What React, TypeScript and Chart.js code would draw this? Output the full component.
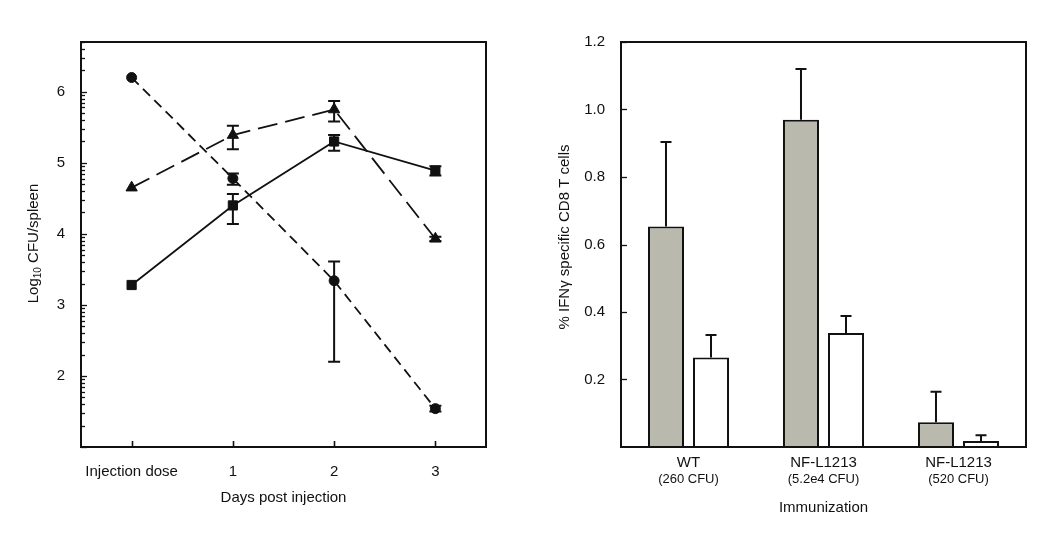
import React, { useEffect, useRef } from "react";
import { Chart, registerables } from "chart.js";

Chart.register(...registerables);

// ---------- Left panel data ----------
const dayLabels = ["Injection dose", "1", "2", "3"];
const dayX = [0, 1, 2, 3];
const circleMean = [6.2, 4.78, 3.34, 1.54];
const circleHigh = [null, 4.85, 3.61, 1.58];
const circleLow = [null, 4.69, 2.2, 1.5];
const triMean = [4.65, 5.39, 5.75, 3.93];
const triHigh = [null, 5.52, 5.87, 3.96];
const triLow = [null, 5.19, 5.58, 3.9];
const sqMean = [3.28, 4.4, 5.3, 4.89];
const sqHigh = [null, 4.56, 5.39, 4.95];
const sqLow = [null, 4.14, 5.17, 4.82];
const leftYTicks = [2, 3, 4, 5, 6];

// ---------- Right panel data ----------
const groups = ["WT", "NF-L1213", "NF-L1213"];
const groupDoses = ["(260 CFU)", "(5.2e4 CFU)", "(520 CFU)"];
const grayValues = [0.653, 0.97, 0.073];
const grayErrTop = [0.904, 1.12, 0.164];
const whiteValues = [0.265, 0.338, 0.018];
const whiteErrTop = [0.332, 0.388, 0.035];
const rightYTicks = [0.2, 0.4, 0.6, 0.8, 1.0, 1.2];

const FONT = "'Liberation Sans', Arial, sans-serif";
const INK = "#111";

function leftPlugin() {
  return {
    id: "leftDecor",
    afterDatasetsDraw(chart: any) {
      const ctx = chart.ctx;
      const xs = chart.scales.x;
      const ys = chart.scales.y;
      const series = [
        [circleHigh, circleLow],
        [triHigh, triLow],
        [sqHigh, sqLow],
      ];
      ctx.save();
      ctx.strokeStyle = INK;
      ctx.lineWidth = 2;
      series.forEach(([hi, lo]) => {
        dayX.forEach((xv, i) => {
          const h = hi[i];
          const l = lo[i];
          if (h == null || l == null) return;
          const px = xs.getPixelForValue(xv);
          const ph = ys.getPixelForValue(h);
          const pl = ys.getPixelForValue(l);
          ctx.beginPath();
          ctx.moveTo(px, ph);
          ctx.lineTo(px, pl);
          ctx.moveTo(px - 6, ph);
          ctx.lineTo(px + 6, ph);
          ctx.moveTo(px - 6, pl);
          ctx.lineTo(px + 6, pl);
          ctx.stroke();
        });
      });
      ctx.restore();
    },
    afterDraw(chart: any) {
      const ctx = chart.ctx;
      const { left, right, top, bottom } = chart.chartArea;
      const xs = chart.scales.x;
      const ys = chart.scales.y;
      ctx.save();
      ctx.strokeStyle = INK;
      ctx.lineWidth = 2;
      ctx.strokeRect(left, top, right - left, bottom - top);
      ctx.lineWidth = 1.3;
      // log-style minor and major ticks on the y axis (inside)
      for (let d = 1; d <= 6; d++) {
        for (let k = 1; k <= 9; k++) {
          const v = d + Math.log10(k);
          if (v > ys.max + 1e-6 || v < ys.min - 1e-6) continue;
          const py = Math.round(ys.getPixelForValue(v)) + 0.5;
          const len = k === 1 ? 6 : 4;
          ctx.beginPath();
          ctx.moveTo(left, py);
          ctx.lineTo(left + len, py);
          ctx.stroke();
        }
      }
      // x ticks (inside)
      ctx.lineWidth = 1.6;
      dayX.forEach((xv) => {
        const px = Math.round(xs.getPixelForValue(xv)) + 0.5;
        ctx.beginPath();
        ctx.moveTo(px, bottom);
        ctx.lineTo(px, bottom - 6);
        ctx.stroke();
      });
      // x title
      ctx.fillStyle = INK;
      ctx.font = `15px ${FONT}`;
      ctx.textAlign = "center";
      ctx.textBaseline = "middle";
      ctx.fillText("Days post injection", (left + right) / 2, 498);
      // y title with subscript
      const big = `15px ${FONT}`;
      const small = `10px ${FONT}`;
      ctx.font = big;
      const w1 = ctx.measureText("Log").width;
      const w3 = ctx.measureText(" CFU/spleen").width;
      ctx.font = small;
      const w2 = ctx.measureText("10").width;
      const total = w1 + w2 + w3;
      ctx.translate(34, 243.5);
      ctx.rotate(-Math.PI / 2);
      ctx.textAlign = "left";
      let cx = -total / 2;
      ctx.font = big;
      ctx.fillText("Log", cx, 0);
      cx += w1;
      ctx.font = small;
      ctx.fillText("10", cx, 4);
      cx += w2;
      ctx.font = big;
      ctx.fillText(" CFU/spleen", cx, 0);
      ctx.restore();
    },
  };
}

function rightPlugin() {
  return {
    id: "rightDecor",
    afterDatasetsDraw(chart: any) {
      const ctx = chart.ctx;
      const ys = chart.scales.y;
      const errs = [grayErrTop, whiteErrTop];
      ctx.save();
      ctx.strokeStyle = INK;
      ctx.lineWidth = 2;
      errs.forEach((errTop, di) => {
        const meta = chart.getDatasetMeta(di);
        meta.data.forEach((bar: any, j: number) => {
          const px = bar.x;
          const pTop = ys.getPixelForValue(errTop[j]);
          ctx.beginPath();
          ctx.moveTo(px, bar.y);
          ctx.lineTo(px, pTop);
          ctx.moveTo(px - 5.5, pTop);
          ctx.lineTo(px + 5.5, pTop);
          ctx.stroke();
        });
      });
      ctx.restore();
    },
    afterDraw(chart: any) {
      const ctx = chart.ctx;
      const { left, right, top, bottom } = chart.chartArea;
      const xs = chart.scales.x;
      const ys = chart.scales.y;
      ctx.save();
      ctx.strokeStyle = INK;
      ctx.lineWidth = 2;
      ctx.strokeRect(left, top, right - left, bottom - top);
      ctx.lineWidth = 1.3;
      rightYTicks.forEach((v) => {
        const py = Math.round(ys.getPixelForValue(v)) + 0.5;
        ctx.beginPath();
        ctx.moveTo(left, py);
        ctx.lineTo(left + 6, py);
        ctx.stroke();
      });
      ctx.fillStyle = INK;
      ctx.textAlign = "center";
      ctx.textBaseline = "middle";
      groups.forEach((g, i) => {
        const px = xs.getPixelForTick(i);
        ctx.font = `15px ${FONT}`;
        ctx.fillText(g, px, 463);
        ctx.font = `13px ${FONT}`;
        ctx.fillText(groupDoses[i], px, 479);
      });
      ctx.font = `15px ${FONT}`;
      ctx.fillText("Immunization", (left + right) / 2, 508);
      ctx.translate(40, 237);
      ctx.rotate(-Math.PI / 2);
      ctx.fillText("% IFNγ specific CD8 T cells", 0, 0);
      ctx.restore();
    },
  };
}

function LeftChart() {
  const ref = useRef<HTMLCanvasElement>(null);
  useEffect(() => {
    if (!ref.current) return;
    const mk = (arr: number[]) => arr.map((y, i) => ({ x: dayX[i], y }));
    const chart = new Chart(ref.current, {
      type: "line",
      data: {
        datasets: [
          {
            data: mk(circleMean),
            borderColor: INK,
            backgroundColor: INK,
            borderWidth: 1.8,
            borderDash: [10, 6],
            pointStyle: "circle",
            pointRadius: 5,
            pointBorderWidth: 1,
          },
          {
            data: mk(triMean),
            borderColor: INK,
            backgroundColor: INK,
            borderWidth: 1.8,
            borderDash: [20, 8],
            pointStyle: "triangle",
            pointRadius: 6.5,
            pointBorderWidth: 1,
          },
          {
            data: mk(sqMean),
            borderColor: INK,
            backgroundColor: INK,
            borderWidth: 1.8,
            pointStyle: "rect",
            pointRadius: 6.5,
            pointBorderWidth: 1,
          },
        ],
      },
      options: {
        responsive: false,
        animation: false,
        devicePixelRatio: 1,
        layout: { padding: { left: 0, top: 42, right: 39, bottom: 0 } },
        plugins: { legend: { display: false }, tooltip: { enabled: false } },
        scales: {
          x: {
            type: "linear",
            min: -0.5,
            max: 3.5,
            grid: { display: false },
            border: { display: false },
            afterBuildTicks: (s: any) => {
              s.ticks = dayX.map((v) => ({ value: v }));
            },
            afterFit: (s: any) => {
              s.height = 88;
            },
            ticks: {
              padding: 8,
              maxRotation: 0,
              autoSkip: false,
              color: INK,
              font: { size: 15, family: FONT },
              callback: (v: any) => dayLabels[dayX.indexOf(Number(v))] ?? "",
            },
          },
          y: {
            type: "linear",
            min: 1,
            max: 6.7,
            grid: { display: false },
            border: { display: false },
            afterBuildTicks: (s: any) => {
              s.ticks = leftYTicks.map((v) => ({ value: v }));
            },
            afterFit: (s: any) => {
              s.width = 81;
            },
            ticks: {
              padding: 8,
              color: INK,
              font: { size: 15, family: FONT },
              callback: (v: any) => String(v),
            },
          },
        },
      },
      plugins: [leftPlugin()],
    } as any);
    return () => chart.destroy();
  }, []);
  return (
    <canvas
      ref={ref}
      width={525}
      height={535}
      style={{ position: "absolute", left: 0, top: 0, width: 525, height: 535 }}
    />
  );
}

function RightChart() {
  const ref = useRef<HTMLCanvasElement>(null);
  useEffect(() => {
    if (!ref.current) return;
    const chart = new Chart(ref.current, {
      type: "bar",
      data: {
        labels: groups.map((g, i) => `${g} ${groupDoses[i]}`),
        datasets: [
          {
            data: grayValues,
            backgroundColor: "#b9b9ad",
            borderColor: INK,
            borderWidth: 2,
            categoryPercentage: 0.667,
            barPercentage: 0.8,
          },
          {
            data: whiteValues,
            backgroundColor: "#ffffff",
            borderColor: INK,
            borderWidth: 2,
            categoryPercentage: 0.667,
            barPercentage: 0.8,
          },
        ],
      },
      options: {
        responsive: false,
        animation: false,
        devicePixelRatio: 1,
        layout: { padding: { left: 0, top: 42, right: 24, bottom: 0 } },
        plugins: { legend: { display: false }, tooltip: { enabled: false } },
        scales: {
          x: {
            type: "category",
            grid: { display: false },
            border: { display: false },
            ticks: { display: false },
            afterFit: (s: any) => {
              s.height = 88;
            },
          },
          y: {
            type: "linear",
            min: 0,
            max: 1.2,
            grid: { display: false },
            border: { display: false },
            afterBuildTicks: (s: any) => {
              s.ticks = rightYTicks.map((v) => ({ value: v }));
            },
            afterFit: (s: any) => {
              s.width = 96;
            },
            ticks: {
              padding: 8,
              color: INK,
              font: { size: 15, family: FONT },
              callback: (v: any) => Number(v).toFixed(1),
            },
          },
        },
      },
      plugins: [rightPlugin()],
    } as any);
    return () => chart.destroy();
  }, []);
  return (
    <canvas
      ref={ref}
      width={525}
      height={535}
      style={{ position: "absolute", left: 525, top: 0, width: 525, height: 535 }}
    />
  );
}

export default function App() {
  return (
    <div
      style={{
        position: "absolute",
        left: 0,
        top: 0,
        width: 1050,
        height: 535,
        background: "#fff",
        overflow: "hidden",
      }}
    >
      <LeftChart />
      <RightChart />
    </div>
  );
}
